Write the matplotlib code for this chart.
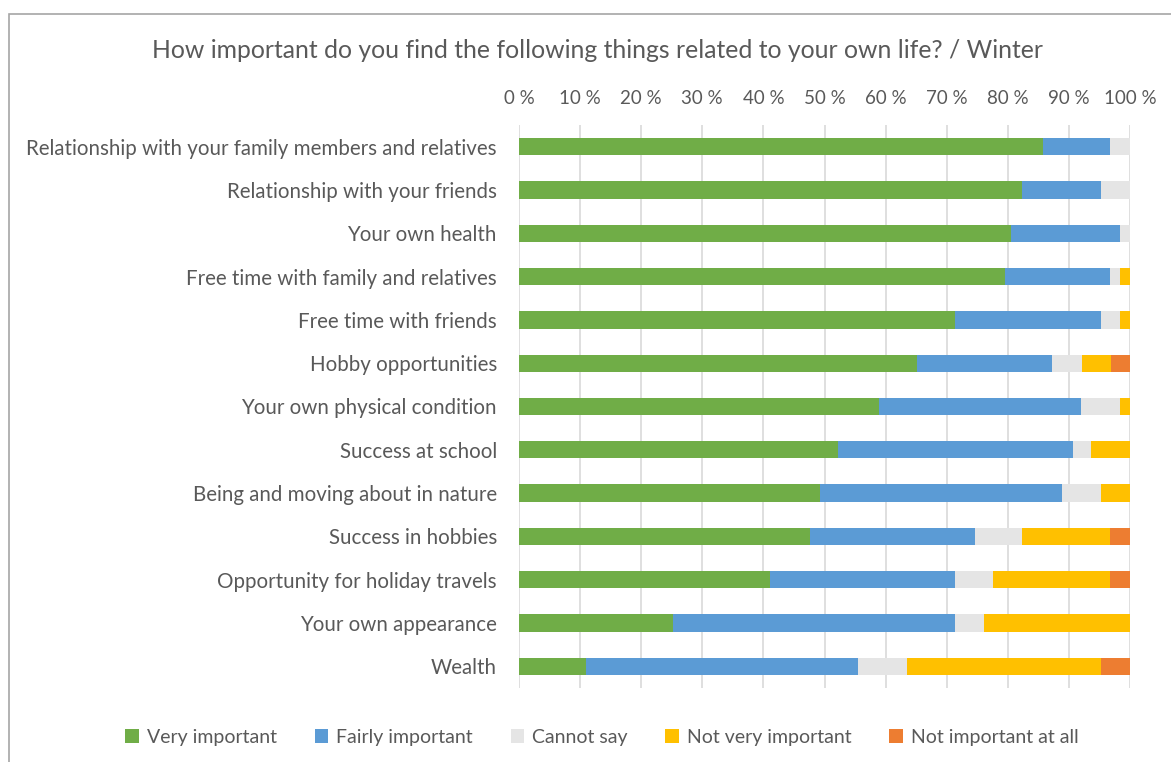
import matplotlib.pyplot as plt
import numpy as np
from matplotlib.patches import Rectangle

plt.rcParams['font.family'] = ['Lato', 'DejaVu Sans']

items = [
    'Relationship with your family members and relatives',
    'Relationship with your friends',
    'Your own health',
    'Free time with family and relatives',
    'Free time with friends',
    'Hobby opportunities',
    'Your own physical condition',
    'Success at school',
    'Being and moving about in nature',
    'Success in hobbies',
    'Opportunity for holiday travels',
    'Your own appearance',
    'Wealth',
]

very_important = [85.8, 82.4, 80.6, 79.5, 71.4, 65.1, 58.9, 52.2, 49.3, 47.7, 41.1, 25.2, 10.9]
fairly_important = [11.0, 12.9, 17.7, 17.3, 23.9, 22.2, 33.1, 38.4, 39.5, 26.9, 30.2, 46.1, 44.6]
cannot_say = [3.2, 4.7, 1.7, 1.6, 3.1, 4.8, 6.4, 3.0, 6.5, 7.8, 6.3, 4.8, 8.0]
not_very_important = [0, 0, 0, 1.6, 1.6, 4.8, 1.6, 6.4, 4.7, 14.3, 19.1, 23.9, 31.8]
not_important_at_all = [0, 0, 0, 0, 0, 3.1, 0, 0, 0, 3.3, 3.3, 0, 4.7]

series = [
    ('Very important', very_important, '#70AD47'),
    ('Fairly important', fairly_important, '#5B9BD5'),
    ('Cannot say', cannot_say, '#E5E5E5'),
    ('Not very important', not_very_important, '#FFC000'),
    ('Not important at all', not_important_at_all, '#ED7D31'),
]

text_col = '#595959'

fig = plt.figure(figsize=(11.71, 7.62), dpi=100)
ax = fig.add_axes([519 / 1171, 1 - 688 / 762, 611 / 1171, (688 - 125) / 762])

y = np.arange(len(items))
left = np.zeros(len(items))
for name, vals, col in series:
    vals = np.array(vals)
    ax.barh(y, vals, left=left, height=0.4, color=col, label=name, zorder=3)
    left += vals

ax.set_xlim(0, 100)
ax.set_ylim(len(items) - 0.5, -0.5)
ax.set_xticks(np.arange(0, 101, 10))
ax.set_xticklabels([f'{v} %' for v in range(0, 101, 10)])
ax.xaxis.tick_top()
ax.tick_params(axis='x', length=0, pad=13, labelsize=13.5, labelcolor=text_col)
ax.set_yticks(y)
ax.set_yticklabels(items)
ax.tick_params(axis='y', length=0, pad=16, labelsize=14.8, labelcolor=text_col)
ax.grid(axis='x', color='#D9D9D9', linewidth=1.2, zorder=0)
for s in ax.spines.values():
    s.set_visible(False)

fig.text(597 / 1171, 1 - 50 / 762, 'How important do you find the following things related to your own life? / Winter',
         ha='center', va='center', fontsize=17.8, color=text_col)

leg = fig.legend(loc='center', bbox_to_anchor=(602 / 1171, 1 - 737 / 762), ncol=5, frameon=False,
                 fontsize=14, handlelength=0.7, handleheight=0.7, handletextpad=0.4, columnspacing=1.95)
for t in leg.get_texts():
    t.set_color(text_col)

# chart frame, cut by the image edges on the right and bottom
fig.patches.append(Rectangle((9 / 1171, -0.1), 1.2, 1 - 14 / 762 + 0.1, transform=fig.transFigure,
                             fill=False, edgecolor='#A6A6A6', linewidth=1.2))

fig.savefig('out.png', dpi=100)
